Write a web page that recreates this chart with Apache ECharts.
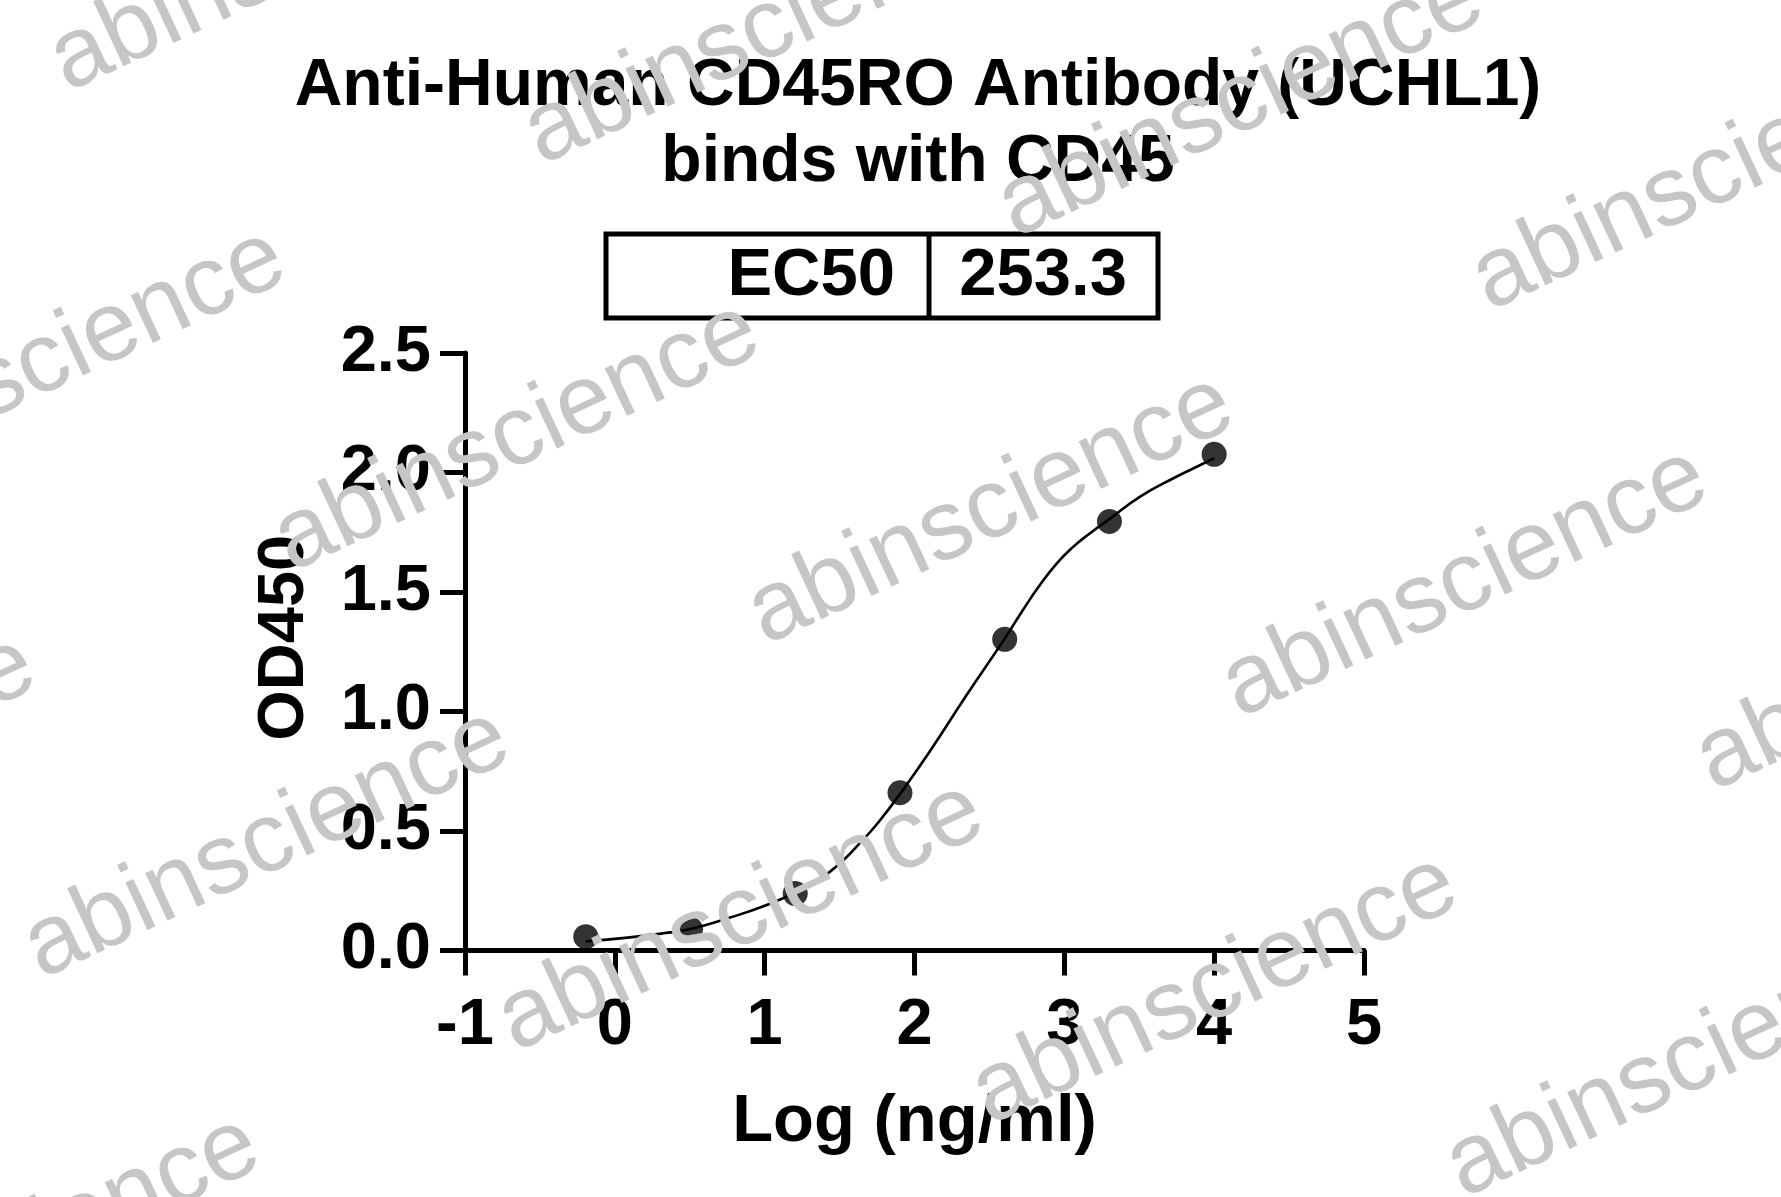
<!DOCTYPE html>
<html>
<head>
<meta charset="utf-8">
<title>Anti-Human CD45RO Antibody (UCHL1) binds with CD45</title>
<script src="https://cdn.jsdelivr.net/npm/echarts@6/dist/echarts.min.js"></script>
<style>
  html, body { margin: 0; padding: 0; background: #fff; }
  #chart { width: 1781px; height: 1197px; }
</style>
</head>
<body>
<div id="chart"></div>
<script>
// ---- data ----
const titleLines = ['Anti-Human CD45RO Antibody (UCHL1)', 'binds with CD45'];
const ec50Label = 'EC50';
const ec50Value = '253.3';
const xAxisName = 'Log (ng/ml)';
const yAxisName = 'OD450';
const watermarkText = 'abinscience';

// measured points: log10 concentration (ng/ml) and OD450
const logConc = [-0.194, 0.505, 1.204, 1.903, 2.602, 3.301, 4.0];
const od450  = [0.058, 0.089, 0.238, 0.660, 1.302, 1.795, 2.076];

// fitted curve
const curveX = [-0.194, 0.101, 0.324, 0.505, 0.769, 0.991, 1.204, 1.437, 1.659, 1.770, 1.903, 2.104, 2.349, 2.602, 2.727, 2.838, 2.950, 3.061, 3.172, 3.301, 3.506, 3.728, 3.884, 4.0];
const curveY = [0.038, 0.055, 0.072, 0.090, 0.138, 0.185, 0.243, 0.330, 0.465, 0.545, 0.655, 0.835, 1.070, 1.305, 1.428, 1.530, 1.620, 1.690, 1.746, 1.805, 1.899, 1.976, 2.024, 2.060];

// ---- chart ----
const FONT = '"Liberation Sans", Arial, Helvetica, sans-serif';
const chart = echarts.init(document.getElementById('chart'), null, { renderer: 'canvas' });

const points = logConc.map((x, i) => [x, od450[i]]);
const curve = curveX.map((x, i) => [x, curveY[i]]);

// watermark layout (decorative)
const wm = [];
for (let k = 0; k <= 5; k++) {
  for (let j = -3; j <= 5; j++) {
    const x = 517 + (k - 2) * (-250) + j * 474;
    const y = 437 + (k - 2) * 407 + j * 73;
    if (x < -350 || x > 2150 || y < -250 || y > 1450) continue;
    wm.push({
      type: 'text', x: x, y: y, rotation: 25 * Math.PI / 180, z: 100, silent: true,
      style: { text: watermarkText, font: '99px ' + FONT, fill: '#c6c6c6',
               align: 'center', verticalAlign: 'middle', textAlign: 'center', textVerticalAlign: 'middle' }
    });
  }
}

const option = {
  backgroundColor: '#ffffff',
  animation: false,
  title: {
    text: titleLines.join('\n'),
    left: 913, top: 44, textAlign: 'center',
    textStyle: { fontFamily: FONT, fontWeight: 'bold', fontSize: 66, lineHeight: 76, color: '#000' }
  },
  grid: { left: 465, right: 417, top: 353, bottom: 246.5, containLabel: false },
  xAxis: {
    type: 'value', min: -1, max: 5, interval: 1,
    name: xAxisName, nameLocation: 'middle', nameGap: 139,
    nameTextStyle: { fontFamily: FONT, fontWeight: 'bold', fontSize: 67, color: '#000' },
    axisLine: { onZero: false, lineStyle: { color: '#000', width: 5 } },
    axisTick: { show: true, length: 25, lineStyle: { color: '#000', width: 5 } },
    axisLabel: { fontFamily: FONT, fontWeight: 'bold', fontSize: 65, color: '#000', margin: 43 },
    splitLine: { show: false }
  },
  yAxis: {
    type: 'value', min: 0, max: 2.5, interval: 0.5,
    name: yAxisName, nameLocation: 'middle', nameGap: 147,
    nameTextStyle: { fontFamily: FONT, fontWeight: 'bold', fontSize: 65, color: '#000', padding: [0, 0, 0, 28] },
    axisLine: { onZero: false, lineStyle: { color: '#000', width: 5 } },
    axisTick: { show: true, length: 25, lineStyle: { color: '#000', width: 5 } },
    axisLabel: { fontFamily: FONT, fontWeight: 'bold', fontSize: 65, color: '#000', margin: 34,
                 formatter: v => v.toFixed(1) },
    splitLine: { show: false }
  },
  series: [
    {
      type: 'line', data: curve, smooth: 0.5, showSymbol: false, z: 2,
      lineStyle: { color: '#000', width: 2.6 }, silent: true
    },
    {
      type: 'scatter', data: points, symbol: 'circle', symbolSize: 25, z: 3,
      itemStyle: { color: '#000' }, silent: true
    }
  ],
  graphic: [
    { type: 'rect', shape: { x: 606, y: 234, width: 552, height: 84 },
      style: { fill: '#fff', stroke: '#000', lineWidth: 5 }, z: 10 },
    { type: 'line', shape: { x1: 929, y1: 234, x2: 929, y2: 318 },
      style: { stroke: '#000', lineWidth: 5 }, z: 11 },
    { type: 'text', x: 895, y: 277, z: 11,
      style: { text: ec50Label, font: 'bold 67px ' + FONT, fill: '#000',
               align: 'right', verticalAlign: 'middle', textAlign: 'right', textVerticalAlign: 'middle' } },
    { type: 'text', x: 1127, y: 277, z: 11,
      style: { text: ec50Value, font: 'bold 67px ' + FONT, fill: '#000',
               align: 'right', verticalAlign: 'middle', textAlign: 'right', textVerticalAlign: 'middle' } }
  ].concat(wm)
};

chart.setOption(option);
</script>
</body>
</html>
